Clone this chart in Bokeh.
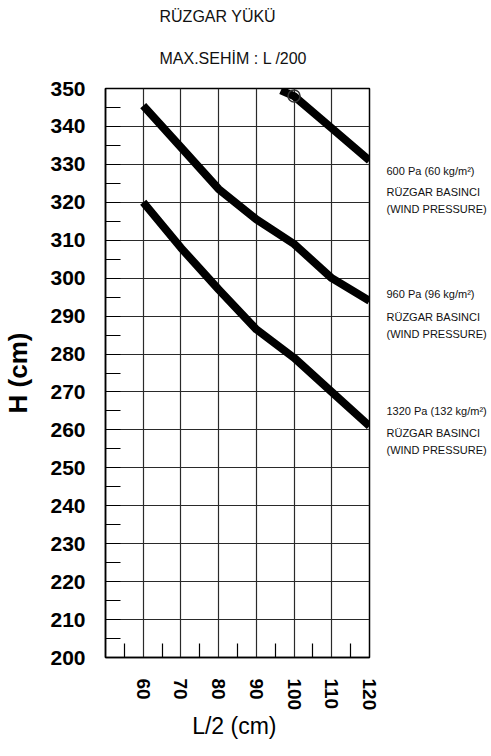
import math
from bokeh.plotting import figure
from bokeh.models import (Range1d, FixedTicker, SingleIntervalTicker, Title,
                          LinearAxis)
from bokeh.embed import file_html
from bokeh.resources import INLINE

# ---- data ----
x_ticks = [60, 70, 80, 90, 100, 110, 120]
x_minor = [55, 65, 75, 85, 95, 105, 115]
x_grid = [60, 70, 80, 90, 100, 110]

L_600 = [96.5, 100, 110, 120]
H_600 = [349.5, 348, 339.5, 331]
L_960 = [60, 70, 80, 90, 100, 110, 120]
H_960 = [345.5, 334.5, 323.5, 315.5, 309, 300, 294]
L_1320 = [60, 70, 80, 90, 100, 110, 120]
H_1320 = [320, 308, 297, 286.5, 279, 270, 261]
mark_L = [100]
mark_H = [348]

title1 = "RÜZGAR YÜKÜ"
title2 = "MAX.SEHİM :  L /200"
series_texts = [
    "600 Pa (60 kg/m²)", "RÜZGAR BASINCI", "(WIND PRESSURE)",
    "960 Pa (96 kg/m²)", "RÜZGAR BASINCI", "(WIND PRESSURE)",
    "1320 Pa (132 kg/m²)", "RÜZGAR BASINCI", "(WIND PRESSURE)",
]
series_text_y = [
    328.2, 322.7, 318.3,
    295.7, 289.7, 285.3,
    265.1, 259.1, 254.6,
]

FONT = "Liberation Sans"

p = figure(width=491, height=756,
           x_range=Range1d(50, 120), y_range=Range1d(200, 350),
           output_backend="svg", toolbar_location=None,
           min_border_left=103, min_border_right=122,
           min_border_top=88, min_border_bottom=99)
p.background_fill_color = "white"
p.border_fill_color = "white"
p.outline_line_color = "black"
p.outline_line_width = 1.5

# titles: p.title is the outer one, the added Title sits next to the frame
p.title.text = title1
p.title.align = "left"
p.title.offset = 54
p.title.text_font = FONT
p.title.text_font_size = "16px"
p.title.text_font_style = "normal"
p.title.text_color = "#111111"
p.title.standoff = 4
t2 = Title(text=title2, align="left", offset=54, text_font=FONT,
           text_font_size="16px", text_font_style="normal",
           text_color="#111111", standoff=43)
p.add_layout(t2, "above")

# x axis
p.xaxis.ticker = FixedTicker(ticks=x_ticks, minor_ticks=x_minor)
p.xaxis.major_tick_in = 0
p.xaxis.major_tick_out = 0
p.xaxis.minor_tick_in = 14
p.xaxis.minor_tick_out = 0
p.xaxis.minor_tick_line_color = "black"
p.xaxis.minor_tick_line_width = 1.2
p.xaxis.axis_line_color = "black"
p.xaxis.axis_line_width = 1.5
p.xaxis.major_label_orientation = "vertical"
p.xaxis.major_label_standoff = 21
p.xaxis.major_label_text_font = FONT
p.xaxis.major_label_text_font_size = "19px"
p.xaxis.major_label_text_font_style = "bold"
p.xaxis.major_label_text_color = "black"
p.xaxis.axis_label = "L/2  (cm)"
p.xaxis.axis_label_text_font = FONT
p.xaxis.axis_label_text_font_size = "23px"
p.xaxis.axis_label_text_font_style = "normal"
p.xaxis.axis_label_text_color = "black"
p.xaxis.axis_label_standoff = 0

# y axis
p.yaxis.ticker = SingleIntervalTicker(interval=10, num_minor_ticks=2)
p.yaxis.major_tick_in = 0
p.yaxis.major_tick_out = 0
p.yaxis.minor_tick_in = 15
p.yaxis.minor_tick_out = 0
p.yaxis.minor_tick_line_color = "black"
p.yaxis.minor_tick_line_width = 1.2
p.yaxis.axis_line_color = "black"
p.yaxis.axis_line_width = 1.5
p.yaxis.major_label_standoff = 20
p.yaxis.major_label_text_font = FONT
p.yaxis.major_label_text_font_size = "21px"
p.yaxis.major_label_text_font_style = "bold"
p.yaxis.major_label_text_color = "black"
p.yaxis.axis_label = "H (cm)"
p.yaxis.axis_label_text_font = FONT
p.yaxis.axis_label_text_font_size = "26px"
p.yaxis.axis_label_text_font_style = "bold"
p.yaxis.axis_label_text_color = "black"
p.yaxis.axis_label_standoff = 14

# right axis carrying the series annotations
right = LinearAxis(ticker=FixedTicker(ticks=series_text_y, minor_ticks=[]),
                   major_label_overrides=dict(zip(series_text_y, series_texts)),
                   axis_line_color=None, major_tick_line_color=None,
                   minor_tick_line_color=None,
                   major_tick_in=0, major_tick_out=0,
                   major_label_standoff=17,
                   major_label_text_font=FONT,
                   major_label_text_font_size="11px",
                   major_label_text_color="#111111")
p.add_layout(right, "right")

# grid
p.xgrid.ticker = FixedTicker(ticks=x_grid)
p.xgrid.grid_line_color = "#2a2a2a"
p.xgrid.grid_line_width = 1.2
p.ygrid.grid_line_color = "#2a2a2a"
p.ygrid.grid_line_width = 1.2

# curves
for xs, ys in [(L_600, H_600), (L_960, H_960), (L_1320, H_1320)]:
    p.line(xs, ys, line_width=8, line_color="black", line_join="round")
p.scatter(mark_L, mark_H, size=12, marker="circle", fill_color=None,
          line_color="#333333", line_width=1.5)

open("out.html", "w").write(file_html(p, INLINE))
